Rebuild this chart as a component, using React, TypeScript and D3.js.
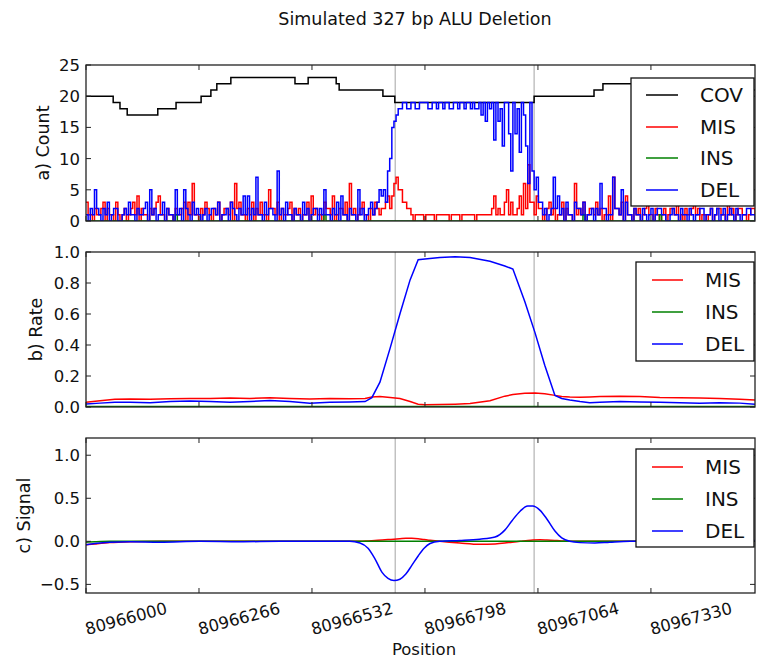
import React from 'react';
import * as d3 from 'd3';

// ---------- data ----------
const X_START = 80966000;
const X_END = 80967575;
const X_TICKS = [80966000, 80966266, 80966532, 80966798, 80967064, 80967330];
const BREAKPOINTS = [80966728, 80967055];
const BIN_BP = 5;

// coverage step function: offsets (bp from X_START) where the value changes
const COV_POS = [0, 64, 80, 97, 169, 212, 271, 294, 308, 341, 492, 523, 589, 596, 699, 727, 1055, 1196, 1217, 1492];
const COV_VAL = [20, 19, 18, 17, 18, 19, 20, 21, 22, 23, 22, 23, 22, 21, 20, 19, 20, 21, 22, 21];

// per 5 bp bin counts
const DEL_COUNT = [
  1, 0, 2, 1, 5, 2, 1, 0, 2, 1, 3, 0, 1, 2, 2, 0, 0, 1, 2, 1,
  3, 1, 1, 0, 2, 1, 1, 2, 3, 0, 5, 1, 2, 0, 1, 1, 3, 0, 2, 1,
  1, 0, 5, 1, 2, 0, 5, 2, 1, 0, 3, 1, 2, 1, 0, 1, 2, 0, 1, 2,
  2, 1, 3, 0, 1, 1, 2, 0, 3, 2, 1, 0, 2, 1, 4, 1, 4, 0, 2, 1,
  7, 1, 1, 0, 3, 1, 2, 2, 1, 0, 8, 1, 2, 0, 3, 1, 1, 0, 2, 1,
  1, 0, 3, 1, 2, 0, 1, 2, 2, 0, 2, 1, 5, 1, 1, 0, 2, 1, 3, 0,
  4, 1, 1, 0, 2, 1, 1, 0, 5, 1, 2, 0, 1, 2, 3, 1, 2, 3, 5, 4,
  5, 3, 8, 10, 15, 16, 17, 18, 18, 19, 19, 18, 18, 19, 19, 18, 18, 19, 19, 19,
  19, 18, 18, 19, 19, 18, 19, 19, 18, 19, 19, 18, 18, 19, 19, 18, 19, 19, 18, 19,
  19, 18, 19, 18, 18, 19, 17, 19, 16, 19, 18, 19, 13, 19, 16, 18, 12, 19, 19, 14,
  8, 19, 14, 18, 11, 19, 17, 12, 6, 19, 8, 5, 7, 3, 3, 1, 2, 0, 1, 2,
  7, 2, 4, 1, 2, 0, 3, 1, 1, 0, 3, 2, 2, 1, 3, 0, 1, 1, 2, 0,
  2, 1, 6, 2, 2, 0, 1, 1, 7, 2, 2, 1, 5, 0, 3, 1, 1, 0, 2, 1,
  1, 0, 2, 1, 0, 1, 2, 0, 1, 2, 2, 1, 1, 0, 0, 1, 2, 1, 1, 0,
  2, 1, 1, 0, 2, 1, 0, 1, 1, 2, 2, 0, 1, 1, 2, 0, 1, 2, 0, 1,
  2, 0, 1, 2, 1, 0, 2, 1, 0, 1, 1, 2, 2, 1, 1, 0,
];
const MIS_COUNT = [
  3, 1, 1, 0, 2, 1, 1, 2, 3, 0, 2, 1, 1, 0, 3, 1, 0, 1, 2, 0,
  1, 2, 3, 1, 4, 0, 2, 1, 1, 0, 2, 1, 2, 3, 4, 1, 1, 0, 2, 1,
  1, 0, 2, 1, 1, 2, 3, 0, 3, 1, 6, 1, 1, 0, 2, 1, 3, 2, 1, 0,
  2, 1, 3, 0, 1, 2, 2, 1, 3, 0, 6, 2, 3, 1, 1, 0, 2, 1, 3, 0,
  2, 1, 3, 1, 1, 0, 5, 2, 2, 1, 3, 0, 2, 1, 1, 2, 3, 0, 2, 1,
  2, 0, 1, 1, 3, 0, 4, 1, 2, 1, 1, 0, 3, 2, 2, 1, 4, 0, 1, 2,
  2, 1, 3, 0, 6, 1, 2, 0, 1, 2, 3, 1, 1, 0, 2, 1, 3, 2, 1, 2,
  2, 3, 4, 2, 4, 6, 7, 5, 5, 3, 3, 2, 2, 1, 0, 1, 1, 1, 1, 0,
  1, 1, 1, 1, 0, 1, 1, 1, 1, 1, 1, 0, 1, 1, 1, 1, 0, 1, 1, 1,
  1, 1, 1, 0, 1, 1, 1, 1, 1, 1, 1, 2, 4, 1, 2, 1, 1, 3, 5, 1,
  3, 1, 1, 2, 4, 1, 6, 2, 9, 3, 3, 1, 4, 2, 2, 0, 1, 2, 3, 1,
  2, 0, 1, 1, 3, 0, 2, 1, 1, 0, 6, 1, 2, 1, 3, 0, 1, 2, 2, 1,
  3, 1, 2, 0, 1, 1, 4, 0, 7, 2, 2, 1, 3, 0, 4, 1, 1, 0, 2, 1,
  2, 0, 1, 2, 3, 1, 1, 0, 2, 1, 0, 1, 2, 0, 1, 2, 2, 1, 3, 0,
  1, 0, 2, 1, 1, 2, 3, 1, 2, 0, 1, 1, 0, 1, 2, 0, 1, 2, 2, 1,
  1, 0, 3, 1, 2, 0, 1, 2, 2, 1, 1, 0, 1, 2, 2, 1,
];
const INS_COUNT = [
  0, 0, 0, 0, 0, 0, 0, 0, 0, 0, 0, 0, 0, 0, 0, 0, 0, 0, 0, 0,
  0, 0, 0, 0, 0, 0, 0, 0, 0, 0, 0, 0, 0, 0, 0, 0, 0, 0, 0, 0,
  0, 0, 1, 0, 0, 0, 0, 0, 0, 0, 0, 0, 0, 0, 0, 0, 0, 0, 0, 0,
  0, 0, 0, 0, 0, 0, 0, 0, 0, 0, 0, 0, 0, 0, 0, 0, 0, 0, 0, 0,
  0, 0, 0, 0, 0, 0, 0, 0, 0, 0, 0, 0, 0, 0, 0, 0, 0, 0, 0, 0,
  0, 0, 0, 0, 0, 0, 0, 0, 0, 0, 0, 0, 1, 0, 0, 0, 0, 0, 0, 0,
  0, 0, 0, 0, 0, 0, 0, 0, 0, 0, 0, 0, 0, 0, 0, 0, 0, 0, 0, 0,
  0, 0, 0, 0, 0, 0, 0, 0, 0, 0, 0, 0, 0, 0, 0, 0, 0, 0, 0, 0,
  0, 0, 0, 0, 0, 0, 0, 0, 0, 0, 0, 0, 0, 0, 0, 0, 0, 0, 0, 0,
  0, 0, 0, 0, 0, 0, 0, 0, 0, 0, 0, 0, 0, 0, 0, 0, 0, 0, 0, 0,
  0, 0, 0, 0, 0, 0, 0, 0, 0, 0, 0, 0, 0, 0, 0, 0, 0, 0, 0, 0,
  0, 0, 0, 0, 0, 0, 0, 0, 0, 0, 0, 0, 0, 0, 1, 0, 0, 0, 0, 0,
  0, 0, 0, 0, 0, 0, 0, 0, 0, 0, 0, 0, 0, 0, 0, 0, 0, 0, 0, 0,
  0, 0, 0, 0, 0, 0, 0, 0, 0, 0, 1, 0, 0, 0, 0, 0, 0, 0, 0, 0,
  0, 0, 0, 0, 0, 0, 0, 0, 0, 0, 0, 0, 0, 0, 0, 0, 0, 0, 0, 0,
  0, 0, 0, 0, 0, 0, 0, 0, 0, 0, 0, 0, 0, 0, 0, 0,
];

// rates (offsets in bp from X_START)
const RATE_POS = [0, 33, 68, 104, 151, 198, 245, 292, 339, 386, 433, 480, 527, 574, 621, 657, 673, 692, 716, 739, 763, 782, 798, 833, 869, 904, 951, 986, 1005, 1033, 1057, 1080, 1104, 1120, 1139, 1163, 1186, 1210, 1257, 1304, 1351, 1398, 1445, 1492, 1539, 1575];
const DEL_RATE = [0.02, 0.025, 0.03, 0.03, 0.028, 0.035, 0.038, 0.035, 0.03, 0.035, 0.042, 0.035, 0.025, 0.03, 0.032, 0.035, 0.06, 0.16, 0.38, 0.6, 0.82, 0.95, 0.955, 0.965, 0.97, 0.965, 0.94, 0.91, 0.89, 0.68, 0.48, 0.27, 0.075, 0.055, 0.045, 0.035, 0.028, 0.03, 0.035, 0.033, 0.03, 0.028, 0.025, 0.028, 0.025, 0.018];
const MIS_RATE = [0.03, 0.04, 0.05, 0.052, 0.05, 0.053, 0.055, 0.055, 0.058, 0.055, 0.06, 0.055, 0.052, 0.055, 0.053, 0.055, 0.065, 0.068, 0.062, 0.055, 0.035, 0.018, 0.015, 0.016, 0.018, 0.022, 0.04, 0.07, 0.08, 0.088, 0.09, 0.085, 0.075, 0.068, 0.065, 0.063, 0.065, 0.068, 0.07, 0.068, 0.062, 0.06, 0.058, 0.055, 0.05, 0.045];
const INS_RATE = [0.003, 0.003, 0.003, 0.003, 0.003, 0.003, 0.003, 0.003, 0.003, 0.003, 0.003, 0.003, 0.003, 0.003, 0.003, 0.003, 0.003, 0.003, 0.003, 0.003, 0.003, 0.003, 0.003, 0.003, 0.003, 0.003, 0.003, 0.003, 0.003, 0.003, 0.003, 0.003, 0.003, 0.003, 0.003, 0.003, 0.003, 0.003, 0.003, 0.003, 0.003, 0.003, 0.003, 0.003, 0.003, 0.003];

// signals (offsets in bp from X_START)
const SIG_POS = [0, 21, 56, 104, 174, 268, 363, 457, 551, 621, 645, 664, 680, 697, 711, 725, 739, 753, 767, 782, 796, 810, 833, 880, 927, 963, 986, 1003, 1022, 1040, 1052, 1069, 1085, 1104, 1120, 1139, 1163, 1198, 1233, 1281, 1398, 1575];
const DEL_SIG = [-0.04, -0.025, -0.01, -0.005, -0.01, 0.0, -0.005, 0.0, 0.0, 0.0, -0.02, -0.08, -0.2, -0.36, -0.43, -0.455, -0.44, -0.38, -0.28, -0.17, -0.08, -0.025, 0.0, 0.01, 0.025, 0.05, 0.13, 0.24, 0.35, 0.41, 0.41, 0.36, 0.26, 0.12, 0.04, 0.0, -0.015, -0.02, -0.01, 0.0, 0.0, 0.01];
const MIS_SIG = [-0.04, -0.03, -0.015, -0.005, 0, 0, 0, 0, 0, 0, 0.0, 0.005, 0.01, 0.015, 0.02, 0.025, 0.03, 0.035, 0.035, 0.03, 0.02, 0.012, 0.0, -0.02, -0.035, -0.03, -0.02, -0.01, 0.0, 0.01, 0.015, 0.018, 0.015, 0.01, 0.005, 0, 0, 0, 0, 0, 0, 0];
const INS_SIG = [-0.01, -0.005, 0, 0, 0, 0, 0, 0, 0, 0, 0, 0, 0, 0, 0, 0, 0, 0, 0, 0, 0, 0, 0, 0, 0, 0, 0, 0, 0, 0, 0, 0, 0, 0, 0, 0, 0, 0, 0, 0, 0, 0];

const COUNT_TICKS = [0, 5, 10, 15, 20, 25];
const RATE_TICKS = [0, 0.2, 0.4, 0.6, 0.8, 1.0];
const SIGNAL_TICKS = [-0.5, 0, 0.5, 1.0];

const TITLE = 'Simulated 327 bp ALU Deletion';
const X_LABEL = 'Position';

// ---------- layout ----------
const W = 757;
const H = 660;
const L = 86;
const R = 755;
const FONT = 'DejaVu Sans, sans-serif';
const COLORS: Record<string, string> = { COV: '#000000', MIS: '#ff0000', INS: '#008000', DEL: '#0000ff' };

type Pt = [number, number];

function countSeries(vals: number[]): Pt[] {
  const pts: Pt[] = vals.map((v, i) => [X_START + i * BIN_BP, v] as Pt);
  pts.push([X_END, vals[vals.length - 1]]);
  return pts;
}
function stepSeries(pos: number[], vals: number[]): Pt[] {
  const pts: Pt[] = pos.map((p, i) => [X_START + p, vals[i]] as Pt);
  pts.push([X_END, vals[vals.length - 1]]);
  return pts;
}
function smoothSeries(pos: number[], vals: number[]): Pt[] {
  return pos.map((p, i) => [X_START + p, vals[i]] as Pt);
}

export default function App() {
  const x = d3.scaleLinear().domain([X_START, X_END]).range([L, R]);

  const panels = [
    {
      id: 'a', top: 65, bottom: 221, domain: [0, 25], ticks: COUNT_TICKS, fmt: d3.format('d'),
      label: 'a) Count', labelX: 43,
      series: [
        { name: 'COV', pts: stepSeries(COV_POS, COV_VAL), curve: d3.curveStepAfter, w: 1.5 },
        { name: 'MIS', pts: countSeries(MIS_COUNT), curve: d3.curveStepAfter, w: 1.5 },
        { name: 'INS', pts: countSeries(INS_COUNT), curve: d3.curveStepAfter, w: 1.5 },
        { name: 'DEL', pts: countSeries(DEL_COUNT), curve: d3.curveStepAfter, w: 1.5 },
      ],
      legend: { x: 631, y: 78, w: 123, h: 128, rows: [95, 127, 158, 190], lx: [646, 678], tx: 700, names: ['COV', 'MIS', 'INS', 'DEL'] },
    },
    {
      id: 'b', top: 252, bottom: 407, domain: [0, 1], ticks: RATE_TICKS, fmt: d3.format('.1f'),
      label: 'b) Rate', labelX: 36,
      series: [
        { name: 'MIS', pts: smoothSeries(RATE_POS, MIS_RATE), curve: d3.curveLinear, w: 1.5 },
        { name: 'INS', pts: smoothSeries(RATE_POS, INS_RATE), curve: d3.curveLinear, w: 1.5 },
        { name: 'DEL', pts: smoothSeries(RATE_POS, DEL_RATE), curve: d3.curveLinear, w: 1.5 },
      ],
      legend: { x: 636, y: 262, w: 118, h: 99, rows: [280, 312, 344], lx: [652, 683], tx: 705, names: ['MIS', 'INS', 'DEL'] },
    },
    {
      id: 'c', top: 438, bottom: 593, domain: [-0.6, 1.2], ticks: SIGNAL_TICKS, fmt: d3.format('.1f'),
      label: 'c) Signal', labelX: 23.5,
      series: [
        { name: 'MIS', pts: smoothSeries(SIG_POS, MIS_SIG), curve: d3.curveMonotoneX, w: 1.5 },
        { name: 'INS', pts: smoothSeries(SIG_POS, INS_SIG), curve: d3.curveMonotoneX, w: 1.5 },
        { name: 'DEL', pts: smoothSeries(SIG_POS, DEL_SIG), curve: d3.curveMonotoneX, w: 1.5 },
      ],
      legend: { x: 636, y: 449, w: 118, h: 98, rows: [467, 499, 531], lx: [652, 683], tx: 705, names: ['MIS', 'INS', 'DEL'] },
    },
  ];

  const TICK = 5;

  return (
    <svg width={W} height={H} viewBox={`0 0 ${W} ${H}`} style={{ position: 'absolute', left: 0, top: 0, background: '#fff' }}
      fontFamily={FONT}>
      <rect x={0} y={0} width={W} height={H} fill="#fff" />
      <text x={415} y={25} textAnchor="middle" fontSize={17.5} fill="#111">{TITLE}</text>
      {panels.map((p) => {
        const y = d3.scaleLinear().domain(p.domain).range([p.bottom, p.top]);
        const clipId = `clip-${p.id}`;
        return (
          <g key={p.id}>
            <defs>
              <clipPath id={clipId}>
                <rect x={L} y={p.top} width={R - L} height={p.bottom - p.top} />
              </clipPath>
            </defs>
            {BREAKPOINTS.map((b) => (
              <line key={b} x1={x(b)} x2={x(b)} y1={p.top} y2={p.bottom} stroke="#b8b8b8" strokeWidth={1.3} />
            ))}
            <g clipPath={`url(#${clipId})`}>
              {p.series.map((s) => {
                const gen = d3.line<Pt>().x((d) => x(d[0])).y((d) => y(d[1])).curve(s.curve);
                return (
                  <path key={s.name} d={gen(s.pts) || ''} fill="none" stroke={COLORS[s.name]}
                    strokeWidth={s.w} strokeLinejoin="miter" />
                );
              })}
            </g>
            {p.ticks.map((t) => (
              <g key={t}>
                <line x1={L} x2={L + TICK} y1={y(t)} y2={y(t)} stroke="#222" strokeWidth={1} />
                <line x1={R} x2={R - TICK} y1={y(t)} y2={y(t)} stroke="#222" strokeWidth={1} />
                <text x={L - 6} y={y(t)} dy="0.36em" textAnchor="end" fontSize={16.5} fill="#111">{p.fmt(t)}</text>
              </g>
            ))}
            {X_TICKS.map((t) => (
              <g key={t}>
                <line x1={x(t)} x2={x(t)} y1={p.bottom} y2={p.bottom - TICK} stroke="#222" strokeWidth={1} />
                <line x1={x(t)} x2={x(t)} y1={p.top} y2={p.top + TICK} stroke="#222" strokeWidth={1} />
              </g>
            ))}
            <rect x={L} y={p.top} width={R - L} height={p.bottom - p.top} fill="none" stroke="#222" strokeWidth={1.3} />
            <text transform={`translate(${p.labelX},${(p.top + p.bottom) / 2}) rotate(-90)`} textAnchor="middle"
              dy="0.36em" fontSize={17.5} fill="#111">{p.label}</text>
            <rect x={p.legend.x} y={p.legend.y} width={p.legend.w} height={p.legend.h} fill="#fff" stroke="#111" strokeWidth={1.3} />
            {p.legend.names.map((n, i) => (
              <g key={n}>
                <line x1={p.legend.lx[0]} x2={p.legend.lx[1]} y1={p.legend.rows[i]} y2={p.legend.rows[i]} stroke={COLORS[n]} strokeWidth={1.5} />
                <text x={p.legend.tx} y={p.legend.rows[i]} dy="0.36em" fontSize={20} fill="#111">{n}</text>
              </g>
            ))}
          </g>
        );
      })}
      {X_TICKS.map((t) => (
        <text key={t} transform={`translate(${x(t) + 1},635) rotate(-15)`} textAnchor="start" fontSize={16.5} fill="#111">
          {String(t)}
        </text>
      ))}
      <text x={424} y={655} textAnchor="middle" fontSize={16.5} fill="#111">{X_LABEL}</text>
    </svg>
  );
}
